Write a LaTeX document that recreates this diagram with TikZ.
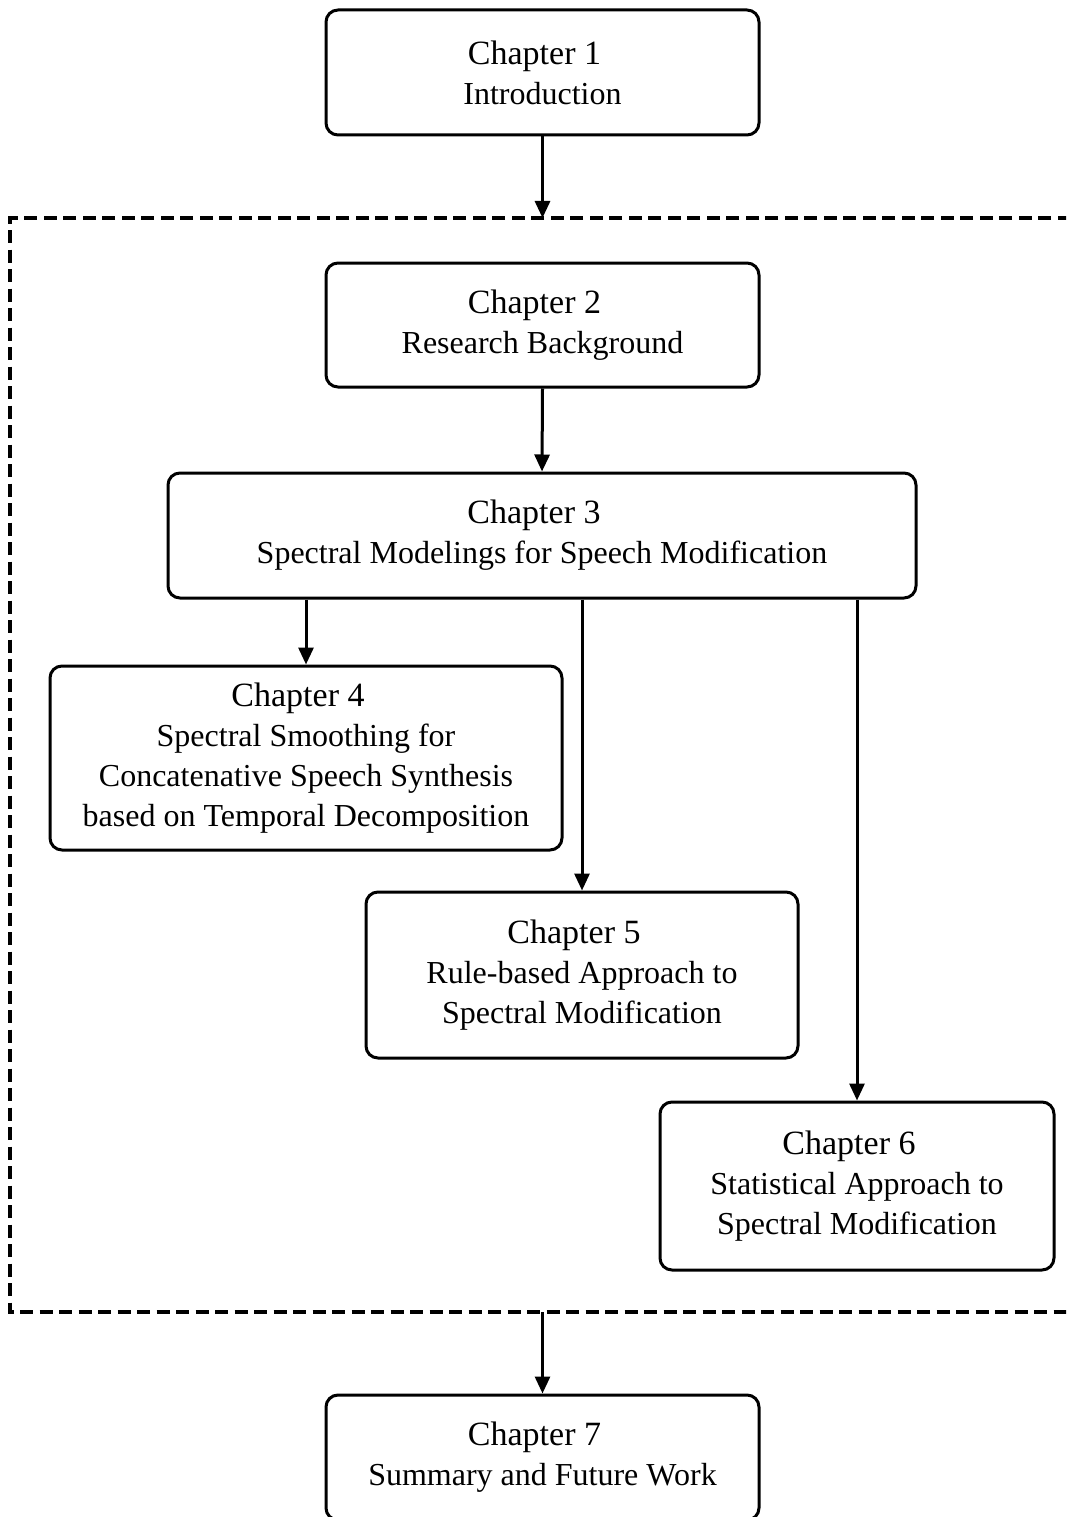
\documentclass[tikz,border=0pt]{standalone}
\usepackage{fontspec}
\setmainfont{Liberation Serif}
\usetikzlibrary{arrows.meta}

% first line of every box: the chapter number, slightly larger
\newcommand{\chaptitle}[1]{{\fontsize{34}{40}\selectfont Chapter #1\rule{16pt}{0pt}}}

\begin{document}
\begin{tikzpicture}[x=1pt, y=-1pt,
  chapbox/.style={draw, line width=3pt, rounded corners=12pt, align=center,
    inner sep=0pt, font=\fontsize{32}{40}\selectfont},
  link/.style={line width=3pt, -{Triangle[length=17pt,width=15pt]}},
  groupframe/.style={line width=3.2pt, dash pattern=on 13pt off 6.5pt}]

\clip (0,0) rectangle (1066,1517);
\useasboundingbox (0,0) rectangle (1066,1517);

% chapter boxes
\node[chapbox, minimum width=433pt, minimum height=125pt] (c1) at (542.5,72.5)
  {\chaptitle{1}\\Introduction};
\node[chapbox, minimum width=433pt, minimum height=124pt] (c2) at (542.5,325)
  {\chaptitle{2}\\Research Background};
\node[chapbox, minimum width=748pt, minimum height=125pt] (c3) at (542,535.5)
  {\chaptitle{3}\\Spectral Modelings for Speech Modification};
\node[chapbox, minimum width=512pt, minimum height=184pt] (c4) at (306,758)
  {\chaptitle{4}\\Spectral Smoothing for\\Concatenative Speech Synthesis\\based on Temporal Decomposition};
\node[chapbox, minimum width=432pt, minimum height=166pt] (c5) at (582,975)
  {\chaptitle{5}\\Rule-based Approach to\\Spectral Modification};
\node[chapbox, minimum width=394pt, minimum height=168pt] (c6) at (857,1186)
  {\chaptitle{6}\\Statistical Approach to\\Spectral Modification};
\node[chapbox, minimum width=433pt, minimum height=125pt] (c7) at (542.5,1457.5)
  {\chaptitle{7}\\Summary and Future Work};

% dashed frame around chapters 2 to 6 (its right side runs off the page)
\coordinate (frameNW) at (10,218);
\coordinate (frameSE) at (1090,1312);
\draw[groupframe] (frameSE |- frameNW) -- (frameNW) -- (frameNW |- frameSE) -- (frameSE);

% connectors
\draw[link] (c1.south) -- (c1.south |- frameNW);
\draw[link] (c2.south) -- (c3.north);
\draw[link] (c4.north |- c3.south) -- (c4.north);
\draw[link] (c5.north |- c3.south) -- (c5.north);
\draw[link] (c6.north |- c3.south) -- (c6.north);
\draw[link] (c7.north |- frameSE) -- (c7.north);
\end{tikzpicture}
\end{document}
